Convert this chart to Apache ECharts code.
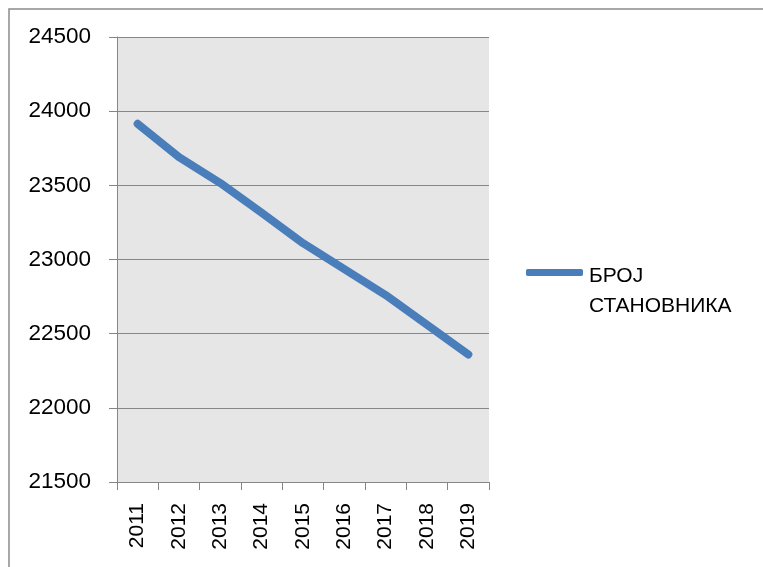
<!DOCTYPE html>
<html>
<head>
<meta charset="utf-8">
<script src="https://cdn.jsdelivr.net/npm/echarts@6/dist/echarts.min.js"></script>
<style>
html,body{margin:0;padding:0;background:#fff;}
#chart{width:763px;height:567px;}
</style>
</head>
<body>
<div id="chart"></div>
<script>
var years = ['2011','2012','2013','2014','2015','2016','2017','2018','2019'];
var population = [23915, 23690, 23515, 23315, 23110, 22935, 22760, 22560, 22360];
var seriesName = 'БРОЈ СТАНОВНИКА';
var legendLines = ['БРОЈ', 'СТАНОВНИКА'];
var yMin = 21500, yMax = 24500, yStep = 500;

var chart = echarts.init(document.getElementById('chart'), null, {renderer:'canvas'});
var font = 'Liberation Sans';
chart.setOption({
  animation: false,
  backgroundColor: '#ffffff',
  graphic: [{
    type: 'rect', z: 100, silent: true,
    shape: {x: 9, y: 9, width: 900, height: 900},
    style: {fill: 'none', stroke: '#8c8c8c', lineWidth: 1.5}
  }],
  grid: {
    left: 117, top: 37, width: 372, height: 445,
    show: true, backgroundColor: '#e6e6e6', borderWidth: 0
  },
  legend: {
    show: true,
    left: 526, top: 232, padding: 0,
    itemWidth: 57, itemHeight: 7,
    icon: 'roundRect',
    data: [{name: seriesName, icon: 'roundRect'}],
    formatter: function(){ return '{e|}\n{t|' + legendLines[0] + '}\n{t|' + legendLines[1] + '}'; },
    textStyle: {
      fontFamily: font, fontSize: 21, color: '#000',
      rich: {
        e: {fontFamily: font, fontSize: 21, lineHeight: 38},
        t: {fontFamily: font, fontSize: 21, color: '#000', lineHeight: 30, padding: [0,0,0,1]}
      }
    }
  },
  xAxis: {
    type: 'category',
    data: years,
    boundaryGap: true,
    axisLine: {show: true, lineStyle: {color: '#868686', width: 1}},
    axisTick: {show: true, length: 8, lineStyle: {color: '#868686', width: 1}},
    axisLabel: {rotate: 90, margin: 21, fontFamily: font, fontSize: 21, color: '#000'},
    splitLine: {show: false}
  },
  yAxis: {
    type: 'value',
    min: yMin, max: yMax, interval: yStep,
    axisLine: {show: true, lineStyle: {color: '#868686', width: 1}},
    axisTick: {show: true, length: 8, lineStyle: {color: '#868686', width: 1}},
    axisLabel: {margin: 26, fontFamily: font, fontSize: 22.5, color: '#000',
      formatter: function(v){ return String(v); }},
    splitLine: {show: true, lineStyle: {color: '#868686', width: 1}}
  },
  series: [{
    name: seriesName,
    type: 'line',
    data: population,
    showSymbol: false,
    symbol: 'none',
    smooth: false,
    itemStyle: {color: '#4a7ebb'},
    lineStyle: {color: '#4a7ebb', width: 8, cap: 'round', join: 'round'}
  }]
});
</script>
</body>
</html>
